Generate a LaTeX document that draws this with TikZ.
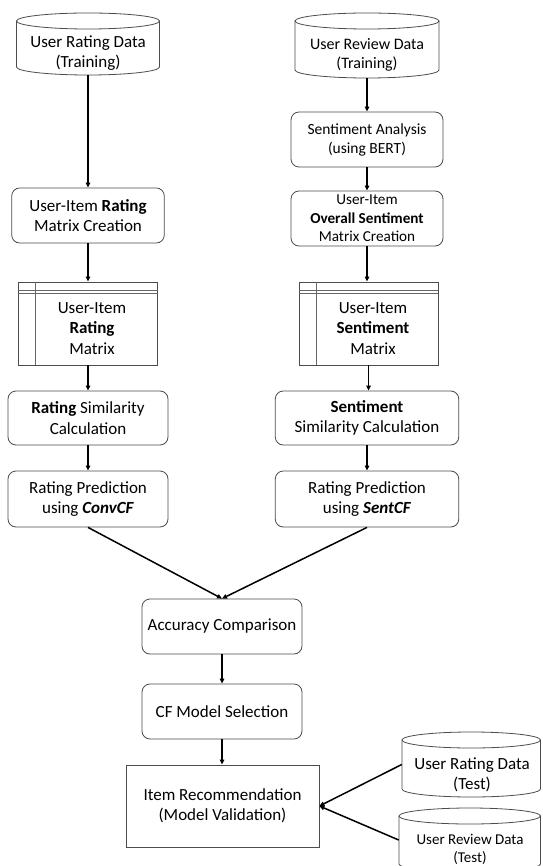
\documentclass[tikz,border=0pt]{standalone}
\usepackage{fontspec}
\setmainfont{Carlito}
\usetikzlibrary{arrows.meta,calc}
\newcommand\fsz[2]{\fontsize{#1}{#2}\selectfont}
\tikzset{
  shapeline/.style={draw=black!70, line width=0.8pt},
  rbox/.style={shapeline, rounded corners=8pt, align=center, inner sep=0pt, font=\fsz{17}{20.5}},
  sbox/.style={shapeline, align=center, inner sep=0pt, font=\fsz{17}{20.5}},
  txt/.style={align=center, inner sep=0pt, font=\fsz{17}{20.5}},
  ghost/.style={draw=none, inner sep=0pt},
  matline/.style={draw=black!60, line width=0.8pt},
  arr/.style={-{Triangle[length=5pt,width=4.5pt]}, line width=1.5pt, black},
}
% name, cx, cy, w, h
\newcommand\mycyl[5]{%
  \node[ghost, minimum width=#4pt, minimum height=#5pt] (#1) at (#2,#3) {};
  \draw[shapeline] (#2-#4/2, #3-#5/2+8) -- (#2-#4/2, #3+#5/2-8)
     arc[start angle=180, end angle=360, x radius={#4/2*1pt}, y radius=8pt]
     -- (#2+#4/2, #3-#5/2+8);
  \draw[shapeline] (#2, #3-#5/2+8) ellipse[x radius={#4/2*1pt}, y radius=8pt];
}
\begin{document}
\begin{tikzpicture}[x=1pt,y=-1pt]
\useasboundingbox (0,0) rectangle (542,866);
\fill[white] (0,0) rectangle (542,866);

% top cylinders
\mycyl{c1}{88}{44}{143}{62}
\node[txt] at (88,53) {User Rating Data\\(Training)};
\mycyl{c2}{367}{45.5}{144}{65}
\node[txt, font=\fsz{16}{19}] at (367,55) {User Review Data\\(Training)};

% left column
\node[rbox, minimum width=152.6pt, minimum height=55pt] (crea) at (88,215.5)
  {User-Item \textbf{Rating}\\Matrix Creation};
\node[sbox, minimum width=138.7pt, minimum height=83pt] (lmat) at (88,323.5) {};
\draw[matline] ([xshift=17.3pt]lmat.north west) -- ([xshift=17.3pt]lmat.south west);
\draw[matline] ([yshift=-9pt]lmat.north west) -- ([yshift=-9pt]lmat.north east);
\draw[matline] ([yshift=-11.5pt]lmat.north west) -- ([yshift=-11.5pt]lmat.north east);
\node[txt] at (92,328.5) {User-Item\\\textbf{Rating}\\Matrix};
\node[rbox, minimum width=160pt, minimum height=54pt] (lsim) at (88,418)
  {\textbf{Rating} Similarity\\Calculation};
\node[rbox, minimum width=160pt, minimum height=56pt] (lpred) at (88,499)
  {Rating Prediction\\using \textbf{\textit{ConvCF}}};

% right column
\node[rbox, minimum width=152pt, minimum height=55pt, font=\fsz{15.5}{19}] (sa) at (367,139.5)
  {Sentiment Analysis\\(using BERT)};
\node[rbox, minimum width=152pt, minimum height=55pt, font=\fsz{15.2}{18.5}] (os) at (367,218.5)
  {User-Item\\\textbf{Overall Sentiment}\\Matrix Creation};
\node[sbox, minimum width=139pt, minimum height=83pt] (rmat) at (368.5,323.5) {};
\draw[matline] ([xshift=17.5pt]rmat.north west) -- ([xshift=17.5pt]rmat.south west);
\draw[matline] ([yshift=-9pt]rmat.north west) -- ([yshift=-9pt]rmat.north east);
\draw[matline] ([yshift=-11.5pt]rmat.north west) -- ([yshift=-11.5pt]rmat.north east);
\node[txt] at (373,328.5) {User-Item\\\textbf{Sentiment}\\Matrix};
\node[rbox, minimum width=183.5pt, minimum height=54pt, font=\fsz{17}{20}] (rsim) at (367,418)
  {\textbf{Sentiment}\\Similarity Calculation};
\node[rbox, minimum width=183.5pt, minimum height=56pt] (rpred) at (367,499)
  {Rating Prediction\\using \textbf{\textit{SentCF}}};

% bottom
\node[rbox, minimum width=160pt, minimum height=55pt] (acc) at (222,626.5) {Accuracy Comparison};
\node[rbox, minimum width=160pt, minimum height=55pt] (cf) at (222,711.5) {CF Model Selection};
\node[sbox, minimum width=193pt, minimum height=82pt] (item) at (222.5,806)
  {Item Recommendation\\(Model Validation)};

% test cylinders
\mycyl{t1}{471.2}{764.5}{138.5}{65}
\node[txt] at (472,775) {User Rating Data\\(Test)};
\mycyl{t2}{469.7}{840}{141.5}{64}
\node[txt, font=\fsz{15}{18}] at (470,849) {User Review Data\\(Test)};

% connectors
\draw[arr] (c1.south) -- (c1.south |- crea.north);
\draw[arr] (crea.south) -- (crea.south |- lmat.north);
\draw[arr] (lmat.south) -- (lmat.south |- lsim.north);
\draw[arr] (lsim.south) -- (lsim.south |- lpred.north);
\draw[arr] (c2.south) -- (c2.south |- sa.north);
\draw[arr] (sa.south) -- (sa.south |- os.north);
\draw[arr] (os.south) -- (os.south |- rmat.north);
\draw[arr] (rmat.south) -- (rmat.south |- rsim.north);
\draw[arr] (rsim.south) -- (rsim.south |- rpred.north);
\draw[arr] (lpred.south) -- (acc.north);
\draw[arr] (rpred.south) -- (acc.north);
\draw[arr] (acc.south) -- (acc.south |- cf.north);
\draw[arr] (cf.south) -- (cf.south |- item.north);
\draw[arr] (t1.west) -- (item.east);
\draw[arr] (t2.west) -- (item.east);
\end{tikzpicture}
\end{document}
